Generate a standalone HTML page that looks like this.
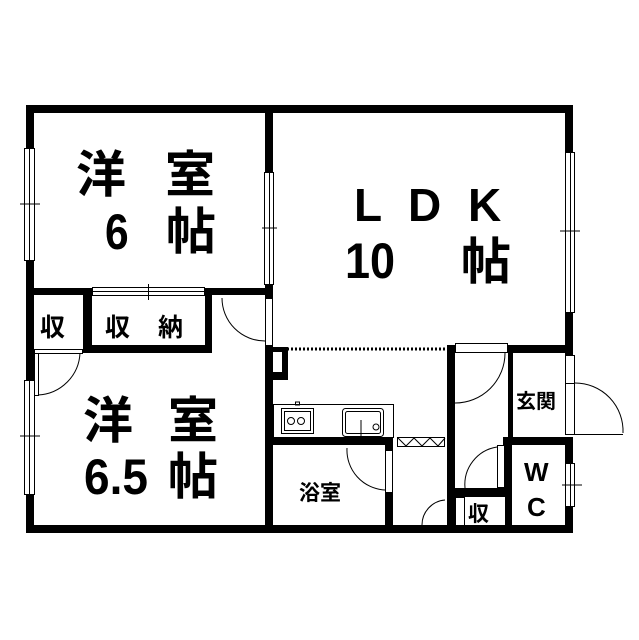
<!DOCTYPE html>
<html><head><meta charset="utf-8"><style>
html,body{margin:0;padding:0;background:#fff;}
svg{display:block}
text{font-family:"Liberation Sans","Noto Sans CJK JP",sans-serif;fill:#000;}
.b text{font-weight:bold}
.s text{font-weight:bold}
</style></head><body>
<svg width="639" height="640" viewBox="0 0 639 640" xmlns="http://www.w3.org/2000/svg">
<g fill="#000">
<rect x="26" y="105" width="547" height="8"/>
<rect x="26" y="105" width="8" height="428"/>
<rect x="26" y="525" width="547" height="8"/>
<rect x="565" y="105" width="8" height="250"/>
<rect x="565" y="437" width="8" height="96"/>
<rect x="265" y="105" width="8" height="428"/>
<rect x="26" y="288" width="247" height="7"/>
<rect x="83" y="288" width="9" height="65"/>
<rect x="83" y="345" width="129" height="8"/>
<rect x="205" y="288" width="7" height="65"/>
<rect x="268" y="347" width="20" height="33"/>
<rect x="273" y="438" width="120" height="7"/>
<rect x="385" y="438" width="8" height="87"/>
<rect x="447" y="345" width="8" height="188"/>
<rect x="508" y="345" width="65" height="8"/>
<rect x="508" y="345" width="5" height="93"/>
<rect x="503" y="437" width="70" height="8"/>
<rect x="505" y="445" width="7" height="88"/>
<rect x="447" y="488" width="65" height="9"/>
</g>
<g fill="#fff">
<rect x="273" y="352" width="9" height="20" />
<rect x="24" y="148" width="12" height="113"/>
<rect x="24" y="380" width="12" height="115"/>
<rect x="263" y="172" width="12" height="113"/>
<rect x="263" y="298" width="12" height="47"/>
<rect x="563" y="152" width="12" height="161"/>
<rect x="563" y="463" width="12" height="44"/>
<rect x="92" y="286" width="113" height="9"/>
<rect x="455" y="343" width="53" height="10"/>
<rect x="497" y="445" width="8" height="43"/>
<rect x="385" y="450" width="8" height="42"/>
<rect x="34" y="350" width="49" height="3"/>
</g>
<g fill="none" stroke="#000" stroke-width="1">
<rect x="24.5" y="148.5" width="10" height="112"/><line x1="29.5" y1="148" x2="29.5" y2="261"/><line x1="20" y1="204" x2="40" y2="204"/>
<rect x="24.5" y="380.5" width="10" height="114"/><line x1="29.5" y1="380" x2="29.5" y2="495"/><line x1="20" y1="436" x2="40" y2="436"/>
<rect x="264.5" y="172.5" width="9" height="112"/><line x1="269.5" y1="172" x2="269.5" y2="285"/><line x1="262" y1="228" x2="277" y2="228"/>
<rect x="565.5" y="152.5" width="9" height="160"/><line x1="570.5" y1="152" x2="570.5" y2="313"/><line x1="560" y1="231" x2="580" y2="231"/>
<rect x="565.5" y="463.5" width="9" height="43"/><line x1="570.5" y1="463" x2="570.5" y2="507"/><line x1="562" y1="485" x2="582" y2="485"/>
<rect x="565.5" y="355.5" width="9" height="28"/>
<rect x="92.5" y="287.5" width="112" height="8"/><line x1="92" y1="291.5" x2="205" y2="291.5"/><line x1="148.5" y1="284" x2="148.5" y2="300"/>
<rect x="265.5" y="298.5" width="7" height="47"/><path d="M222,298 A43,43 0 0 0 265,341"/>
<rect x="34.5" y="349.5" width="48" height="4"/><rect x="34.5" y="353.5" width="4" height="42"/><path d="M80,353 A44,44 0 0 1 38,395"/>
<rect x="455.5" y="343.5" width="52" height="9"/><path d="M505,353 A50,50 0 0 1 455,403"/>
<rect x="565.5" y="383.5" width="9" height="51"/><path d="M575,383 A48,48 0 0 1 623,433"/><line x1="575" y1="434.5" x2="623" y2="434.5"/>
<rect x="497.5" y="445.5" width="7" height="42"/><path d="M497,447 A38,38 0 0 0 465,488"/>
<rect x="385.5" y="450.5" width="7" height="42"/><path d="M347,448 A40,40 0 0 0 385,490"/>
<rect x="455.5" y="497.5" width="9" height="28"/><path d="M445,500 A25,25 0 0 0 422,525"/>
<rect x="273.5" y="404.5" width="120" height="33"/>
<rect x="281.5" y="408.5" width="32" height="25"/><rect x="284.5" y="411.5" width="26" height="19"/>
<circle cx="291" cy="421" r="3.5"/><circle cx="301" cy="421" r="3.5"/>
<rect x="342.5" y="408.5" width="41" height="28" rx="3"/><rect x="345.5" y="411.5" width="35" height="22" rx="2"/>
<line x1="361" y1="420" x2="361" y2="436"/><circle cx="376" cy="427" r="3"/>
<rect x="295.5" y="402" width="4" height="3"/>
<rect x="397.5" y="437.5" width="47" height="9"/><path d="M398,438 L406,446 L414,438 L422,446 L430,438 L438,446 L445,438"/>
</g>
<line x1="275" y1="349" x2="446" y2="349" stroke="#000" stroke-width="3" stroke-dasharray="2,2"/>
<g class="b">
<text x="76" y="192" font-size="50">洋</text>
<text x="165" y="192" font-size="50">室</text>
<text x="105" y="249" font-size="50" transform="translate(105 0) scale(0.85 1) translate(-105 0)">6</text>
<text x="166" y="249" font-size="50">帖</text>
<text x="354" y="221" font-size="46">L</text>
<text x="408" y="221" font-size="46">D</text>
<text x="468" y="221" font-size="46">K</text>
<text x="345" y="278" font-size="50" transform="translate(345 0) scale(0.9 1) translate(-345 0)">10</text>
<text x="461" y="279" font-size="50">帖</text>
<text x="83" y="438" font-size="50">洋</text>
<text x="168" y="438" font-size="50">室</text>
<text x="84" y="494" font-size="50" transform="translate(84 0) scale(0.92 1) translate(-84 0)">6.5</text>
<text x="168" y="494" font-size="50">帖</text>
</g>
<g class="s">
<text x="40" y="336" font-size="25">収</text>
<text x="105" y="336" font-size="25">収</text>
<text x="158" y="336" font-size="25">納</text>
<text x="299" y="500" font-size="21">浴室</text>
<text x="516" y="408" font-size="20">玄関</text>
<text x="524" y="481" font-size="26">W</text>
<text x="527" y="516" font-size="26">C</text>
<text x="468" y="521" font-size="21">収</text>
</g>
</svg>
</body></html>
